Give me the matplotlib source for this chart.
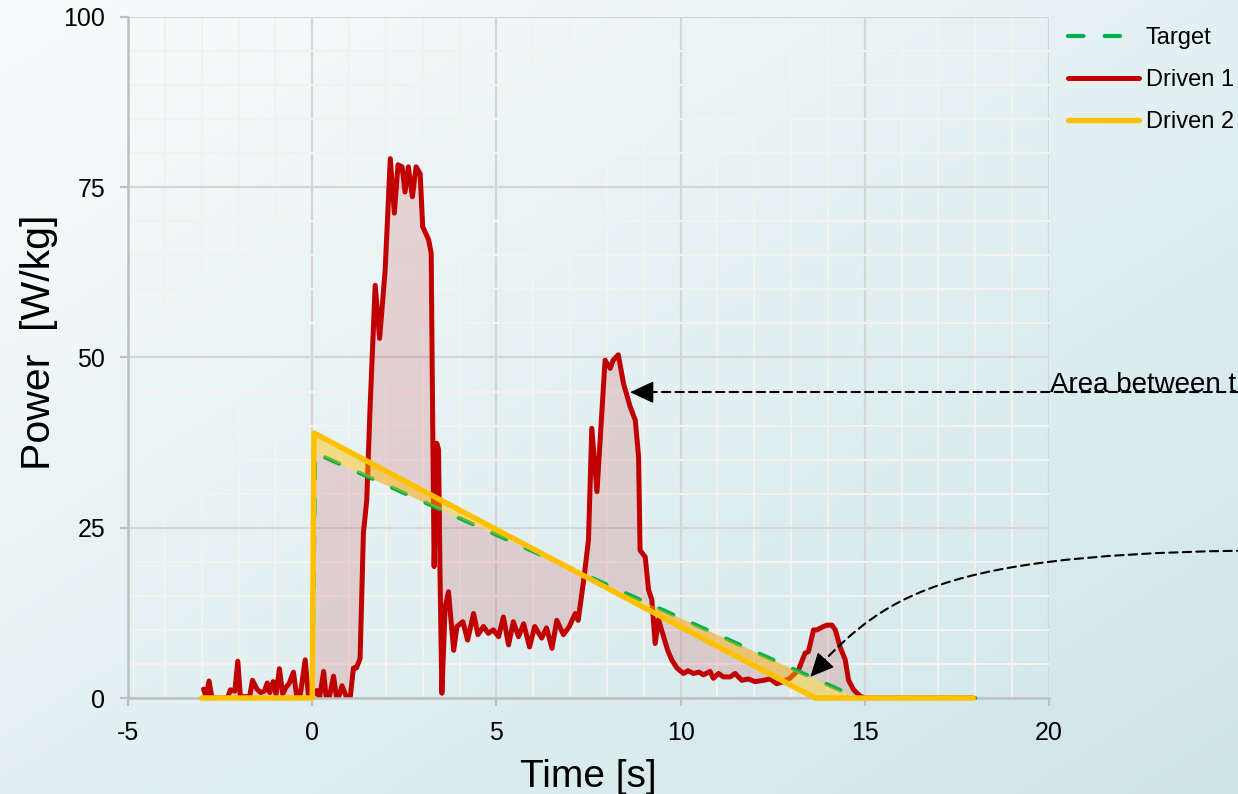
import numpy as np
import matplotlib
matplotlib.use("Agg")
import matplotlib.pyplot as plt
from matplotlib.patches import FancyArrowPatch, ArrowStyle
from matplotlib.path import Path
from matplotlib.ticker import MultipleLocator
from matplotlib.lines import Line2D

plt.rcParams["font.family"] = ["Liberation Sans", "DejaVu Sans"]
plt.rcParams["axes.unicode_minus"] = False

# ---- data -------------------------------------------------------------
target_t = [-3.0, 0.0, 0.08, 14.8, 18.0]
target_p = [0.0, 0.0, 36.0, 0.0, 0.0]

driven2_t = [-3.0, 0.0, 0.05, 13.65, 17.95]
driven2_p = [0.0, 0.0, 38.9, 0.0, 0.0]

driven1_t = [
    -2.95, -2.88, -2.80, -2.72, -2.30, -2.22, -2.10, -2.02, -1.95, -1.70,
    -1.62, -1.50, -1.40, -1.30, -1.22, -1.15, -1.06, -0.98, -0.89, -0.80,
    -0.72, -0.62, -0.51, -0.42, -0.32, -0.19, -0.10, 0.02, 0.13, 0.20,
    0.31, 0.38, 0.46, 0.58, 0.66, 0.71, 0.81, 0.94, 1.03, 1.12,
    1.20, 1.30, 1.39, 1.48, 1.57, 1.71, 1.83, 1.98, 2.12, 2.23,
    2.33, 2.44, 2.52, 2.61, 2.72, 2.82, 2.93, 3.00, 3.16, 3.23,
    3.27, 3.31, 3.38, 3.43, 3.47, 3.52, 3.61, 3.70, 3.84, 3.93,
    4.09, 4.22, 4.38, 4.50, 4.65, 4.78, 4.92, 5.06, 5.19, 5.33,
    5.46, 5.60, 5.74, 5.90, 6.04, 6.23, 6.36, 6.51, 6.64, 6.82,
    6.98, 7.14, 7.22, 7.37, 7.50, 7.59, 7.73, 7.95, 8.09, 8.17,
    8.31, 8.45, 8.63, 8.77, 8.86, 8.90, 9.04, 9.13, 9.22, 9.31,
    9.40, 9.54, 9.65, 9.76, 9.90, 10.08, 10.20, 10.35, 10.50, 10.62,
    10.80, 10.89, 11.03, 11.16, 11.35, 11.48, 11.66, 11.84, 12.02, 12.25,
    12.43, 12.61, 12.79, 12.97, 13.20, 13.38, 13.47, 13.61, 13.70, 13.84,
    13.97, 14.11, 14.20, 14.33, 14.47, 14.56, 14.70, 14.87, 15.00, 17.90,
]
driven1_p = [
    1.3, 0.3, 2.5, 0.0, 0.0, 1.2, 1.0, 5.4, 0.2, 0.2,
    2.6, 1.3, 0.8, 1.0, 2.2, 0.8, 2.4, 0.6, 4.3, 0.6,
    1.5, 2.2, 3.8, 0.3, 0.6, 5.6, 0.3, 0.4, 1.1, 0.0,
    3.9, 0.0, 0.0, 3.2, 0.0, 0.0, 1.8, 0.0, 0.0, 4.4,
    4.4, 5.8, 24.2, 29.0, 42.5, 60.6, 52.8, 62.8, 79.2, 71.2,
    78.3, 78.0, 74.3, 78.0, 73.6, 78.0, 77.0, 69.2, 67.3, 65.3,
    41.0, 19.3, 37.4, 36.5, 18.0, 0.7, 13.4, 15.6, 7.0, 10.5,
    11.2, 8.5, 12.4, 9.3, 10.5, 9.5, 10.0, 9.0, 11.9, 7.8,
    11.2, 9.0, 10.9, 7.5, 10.5, 8.8, 10.3, 7.3, 11.4, 9.3,
    10.5, 12.4, 11.4, 17.3, 23.2, 39.6, 30.3, 49.6, 48.4, 49.6,
    50.4, 46.2, 42.8, 40.8, 35.4, 21.7, 20.7, 15.9, 14.4, 8.0,
    11.5, 9.0, 7.0, 5.6, 4.4, 3.6, 4.0, 3.6, 3.8, 3.4,
    3.9, 2.9, 3.6, 3.1, 3.1, 3.6, 2.6, 2.8, 2.4, 2.6,
    2.8, 2.1, 2.4, 2.9, 4.1, 6.6, 6.8, 10.0, 10.0, 10.4,
    10.7, 10.7, 10.0, 7.5, 5.6, 2.6, 1.2, 0.3, 0.0, 0.0,
]

x_ticks = [-5, 0, 5, 10, 15, 20]
y_ticks = [0, 25, 50, 75, 100]

# ---- colours and widths -------------------------------------------------
C_TARGET = "#00B050"
C_D1 = "#C00000"
C_D2 = "#FFC000"
LW_TARGET, LW_D1, LW_D2 = 3.0, 3.6, 3.9
DASH_TARGET = (0, (3.7, 5.1))

fig = plt.figure(figsize=(12.38, 7.94), dpi=100)

# diagonal background wash
bg = fig.add_axes([0, 0, 1, 1], zorder=-10)
gx, gy = np.meshgrid(np.linspace(0, 1, 300), np.linspace(0, 1, 300))
w = (gx + gy) / 2.0
c0 = np.array([249, 252, 252]) / 255.0
c1 = np.array([206, 229, 232]) / 255.0
bg.imshow(c0 + (c1 - c0) * w[..., None], aspect="auto", extent=[0, 1, 0, 1])
bg.axis("off")

ax = fig.add_axes([0.1034, 0.1209, 0.7439, 0.8577])
ax.patch.set_alpha(0)

ax.set_xlim(-5, 20)
ax.set_ylim(0, 100)
ax.set_xticks(x_ticks)
ax.set_yticks(y_ticks)
ax.xaxis.set_minor_locator(MultipleLocator(1))
ax.yaxis.set_minor_locator(MultipleLocator(5))
ax.set_axisbelow(True)
ax.grid(which="minor", color="#f4f1f1", lw=1.6)
ax.grid(which="major", color="#d6d6d6", lw=1.6)

for side in ("top", "right"):
    ax.spines[side].set_visible(False)
for side in ("left", "bottom"):
    ax.spines[side].set_color("#bfbfbf")
    ax.spines[side].set_linewidth(1.8)

ax.tick_params(which="major", direction="out", length=5.5, width=1.6,
               color="#bfbfbf", labelsize=18, pad=11)
ax.tick_params(which="minor", length=0)

# shaded area between Driven 1 and the target
tt1 = np.union1d(driven1_t, target_t)
ax.fill_between(tt1, np.interp(tt1, driven1_t, driven1_p),
                np.interp(tt1, target_t, target_p),
                color=C_D1, alpha=0.14, lw=0, zorder=1.5)

ax.plot(driven1_t, driven1_p, color=C_D1, lw=LW_D1, zorder=2,
        solid_joinstyle="round", solid_capstyle="round")
ax.plot(target_t, target_p, color=C_TARGET, lw=LW_TARGET, ls=DASH_TARGET,
        dash_capstyle="round", zorder=3, clip_on=False)
ax.plot(driven2_t, driven2_p, color=C_D2, lw=LW_D2, zorder=4,
        solid_joinstyle="round", solid_capstyle="round", clip_on=False)

# shaded area between Driven 2 and the target
tt2 = np.union1d(driven2_t, target_t)
ax.fill_between(tt2, np.interp(tt2, driven2_t, driven2_p),
                np.interp(tt2, target_t, target_p),
                color=C_D2, alpha=0.45, lw=0, zorder=5)

# annotation arrows: dashed shaft plus a solid head
DASH_ARROW = (0, (4, 2.5))
head = ArrowStyle("-|>", head_length=0.75, head_width=0.35)


def dashed_arrow(path, tip, tip_from):
    ax.add_patch(FancyArrowPatch(path=path, arrowstyle="-", lw=1.5,
                                 ls=DASH_ARROW, color="black",
                                 clip_on=False, zorder=6))
    ax.add_patch(FancyArrowPatch(tip_from, tip, arrowstyle=head,
                                 mutation_scale=20, lw=1.0, color="black",
                                 shrinkA=0, shrinkB=0, clip_on=False,
                                 zorder=6))


tip1 = (8.63, 44.9)
dashed_arrow(Path([(26.8, 44.9), (9.0, 44.9)]), tip1, (9.05, 44.9))
ax.text(20.03, 44.9, "Area between the curves", fontsize=20,
        ha="left", va="baseline", clip_on=False)

tip2 = (13.52, 3.1)
curve = Path([(26.8, 21.7), (17.3, 21.7), (15.7, 15.7), (13.72, 4.5)],
             [Path.MOVETO, Path.CURVE4, Path.CURVE4, Path.CURVE4])
dashed_arrow(curve, tip2, (13.80, 4.75))

ax.set_xlabel("Time [s]", fontsize=28)
ax.set_ylabel("Power  [W/kg]", fontsize=29.5)
ax.xaxis.set_label_coords(0.5, -0.089)
ax.yaxis.set_label_coords(-0.076, 0.523)

handles = [
    Line2D([], [], color=C_TARGET, lw=LW_TARGET, ls=DASH_TARGET,
           dash_capstyle="round"),
    Line2D([], [], color=C_D1, lw=LW_D1, solid_capstyle="round"),
    Line2D([], [], color=C_D2, lw=LW_D2, solid_capstyle="round"),
]
fig.legend(handles, ["Target", "Driven 1", "Driven 2"], loc="upper left",
           bbox_to_anchor=(1068 / 1238, 1 - 27 / 794), frameon=False,
           fontsize=17, handlelength=3.0, handletextpad=0.3,
           labelspacing=0.85, borderpad=0, borderaxespad=0)

fig.savefig("out.png", dpi=100)
